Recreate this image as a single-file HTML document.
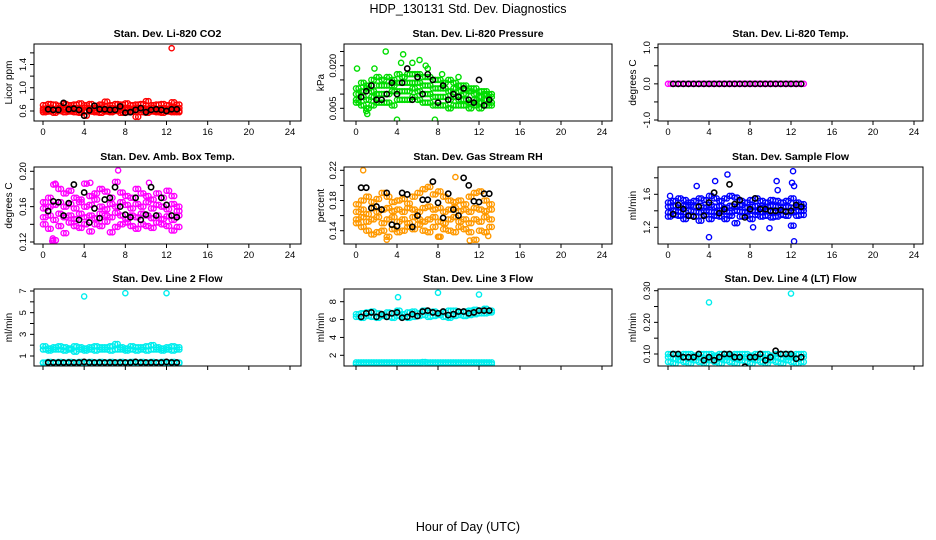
<!DOCTYPE html>
<html><head><meta charset="utf-8"><style>
body{margin:0;background:#fff;}
svg{display:block;font-family:"Liberation Sans",Helvetica,sans-serif;}
</style></head><body>
<svg id="chart" width="936" height="540" viewBox="0 0 936 540">
<text x="468" y="13" text-anchor="middle" font-size="12.5">HDP_130131  Std. Dev. Diagnostics</text>
<text x="468" y="531" text-anchor="middle" font-size="12.5">Hour of Day (UTC)</text>
</svg>
<script>
// shared hour grids
const hoursColor = [0,0.5,1,1.5,2,2.5,3,3.5,4,4.5,5,5.5,6,6.5,7,7.5,8,8.5,9,9.5,10,10.5,11,11.5,12,12.5,13];
const hoursBlack = [0.5,1,1.5,2,2.5,3,3.5,4,4.5,5,5.5,6,6.5,7,7.5,8,8.5,9,9.5,10,10.5,11,11.5,12,12.5,13];
const xTicks = [0,4,8,12,16,20,24];

// P1 CO2
const co2A = [0.70,0.72,0.71,0.69,0.72,0.70,0.71,0.73,0.70,0.72,0.69,0.71,0.76,0.70,0.72,0.71,0.73,0.70,0.71,0.72,0.77,0.70,0.71,0.72,0.70,0.75,0.71];
const co2B = [0.64,0.66,0.63,0.65,0.64,0.66,0.65,0.63,0.66,0.64,0.65,0.66,0.64,0.65,0.63,0.66,0.65,0.64,0.66,0.65,0.64,0.66,0.63,0.65,0.64,0.66,0.65];
const co2C = [0.58,0.59,0.57,0.60,0.58,0.59,0.58,0.57,0.52,0.59,0.58,0.57,0.59,0.58,0.60,0.57,0.58,0.59,0.50,0.58,0.57,0.59,0.58,0.57,0.59,0.58,0.58];
const co2D = [0.61,0.62,0.61,0.60,0.62,0.61,0.62,0.61,0.60,0.62,0.61,0.62,0.61,0.60,0.62,0.61,0.62,0.60,0.61,0.62,0.61,0.62,0.60,0.61,0.62,0.61,0.60];
const co2OutH = [12.5], co2OutV = [1.68];
const co2Black = [0.63,0.62,0.62,0.74,0.63,0.64,0.62,0.52,0.61,0.69,0.63,0.63,0.62,0.62,0.68,0.57,0.58,0.62,0.65,0.58,0.62,0.63,0.62,0.60,0.63,0.63];
// P2 pressure
const prA = [.012,.014,.013,.015,.016,.015,.016,.015,.017,.016,.017,.017,.017,.016,.016,.015,.015,.014,.015,.014,.013,.013,.012,.012,.011,.011,.010];
const prB = [.010,.011,.012,.011,.013,.013,.013,.013,.014,.014,.014,.014,.014,.013,.013,.012,.012,.012,.011,.012,.011,.010,.011,.010,.009,.010,.009];
const prC = [.008,.009,.008,.009,.010,.010,.010,.011,.011,.011,.011,.012,.011,.010,.010,.009,.009,.009,.008,.009,.008,.008,.007,.008,.007,.008,.007];
const prD = [.007,.006,.005,.006,.007,.007,.007,.006,.008,.008,.008,.009,.008,.007,.007,.006,.006,.006,.005,.006,.006,.006,.005,.006,.005,.006,.006];
const prOutH = [0.1,1,1.1,2.9,4,4.4,4.6,5.5,6.2,7.7,8.4,10,1.8,6.8,7.0];
const prOutV = [.019,.004,.003,.025,.001,.021,.024,.021,.022,.001,.017,.016,.019,.020,.019];
const prBlack = [.009,.011,.013,.008,.008,.010,.014,.010,.014,.019,.008,.016,.010,.017,.015,.007,.013,.008,.010,.009,.012,.008,.007,.015,.006,.008];
// P3 temp
const tpA = [0,0,0,0,0,0,0,0,0,0,0,0,0,0,0,0,0,0,0,0,0,0,0,0,0,0,0];
const tpBlack = [0,0,0,0,0,0,0,0,0,0,0,0,0,0,0,0,0,0,0,0,0,0,0,0,0,0];
// P4 amb box temp
const abA = [.165,.170,.185,.180,.175,.178,.170,.168,.186,.172,.175,.180,.177,.170,.188,.176,.172,.170,.180,.175,.172,.168,.175,.170,.178,.172,.160];
const abB = [.158,.160,.162,.165,.160,.163,.158,.165,.160,.162,.168,.160,.157,.163,.160,.165,.162,.158,.163,.160,.165,.158,.162,.160,.157,.163,.155];
const abC = [.148,.150,.145,.152,.148,.150,.146,.152,.148,.150,.147,.152,.150,.148,.153,.150,.146,.150,.148,.152,.150,.147,.150,.146,.149,.145,.150];
const abD = [.140,.135,.122,.138,.130,.142,.138,.136,.140,.132,.140,.138,.143,.131,.137,.140,.142,.138,.135,.140,.138,.136,.142,.140,.138,.133,.137];
const abOutH = [0.9,0.95,7.3,10.3,1.2,4.6];
const abOutV = [.121,.124,.201,.187,.186,.187];
const abBlack = [.155,.166,.165,.150,.164,.185,.145,.176,.142,.158,.147,.168,.170,.182,.160,.151,.148,.170,.145,.151,.182,.150,.170,.162,.150,.148];
// P5 gas stream RH
const rhA = [.175,.180,.185,.178,.182,.190,.185,.178,.180,.182,.176,.185,.190,.195,.198,.188,.192,.185,.180,.178,.180,.175,.185,.190,.192,.180,.175];
const rhB = [.165,.168,.162,.170,.165,.168,.170,.166,.168,.165,.170,.168,.165,.170,.172,.168,.170,.165,.168,.170,.166,.168,.165,.170,.168,.166,.168];
const rhC = [.155,.158,.152,.155,.158,.150,.155,.158,.152,.155,.150,.158,.155,.152,.155,.158,.152,.150,.155,.158,.152,.155,.150,.155,.152,.158,.155];
const rhD = [.150,.145,.140,.135,.138,.140,.132,.142,.138,.140,.145,.142,.148,.140,.138,.145,.132,.142,.140,.138,.145,.142,.138,.128,.140,.138,.145];
const rhOutH = [0.7,3,8.1,9.7,11.1,12.9];
const rhOutV = [.220,.128,.132,.211,.127,.133];
const rhBlack = [.197,.197,.170,.172,.168,.190,.148,.146,.190,.188,.145,.160,.181,.181,.205,.177,.157,.189,.168,.160,.210,.200,.179,.178,.189,.189];
// P6 sample flow
const sfA = [1.50,1.52,1.55,1.53,1.50,1.52,1.55,1.53,1.58,1.55,1.52,1.55,1.58,1.56,1.52,1.50,1.53,1.55,1.52,1.50,1.53,1.52,1.50,1.52,1.55,1.50,1.48];
const sfB = [1.45,1.46,1.44,1.46,1.47,1.45,1.46,1.44,1.47,1.45,1.46,1.44,1.46,1.45,1.47,1.44,1.45,1.46,1.44,1.45,1.46,1.45,1.44,1.45,1.44,1.45,1.44];
const sfC = [1.38,1.40,1.39,1.38,1.40,1.39,1.38,1.40,1.39,1.38,1.40,1.39,1.38,1.40,1.39,1.38,1.40,1.39,1.38,1.40,1.39,1.38,1.40,1.39,1.38,1.40,1.40];
const sfD = [1.33,1.35,1.34,1.30,1.34,1.33,1.28,1.35,1.30,1.34,1.33,1.30,1.34,1.25,1.33,1.34,1.30,1.35,1.33,1.34,1.32,1.33,1.35,1.34,1.22,1.34,1.35];
const sfOutH = [0.2,2.8,4,4.6,5.8,8.3,9.9,10.6,10.7,12.1,12.2,12.3,12.3];
const sfOutV = [1.58,1.70,1.08,1.76,1.84,1.20,1.19,1.76,1.65,1.74,1.88,1.70,1.03];
const sfBlack = [1.36,1.47,1.42,1.34,1.33,1.45,1.34,1.50,1.62,1.37,1.42,1.72,1.48,1.53,1.32,1.42,1.55,1.42,1.42,1.40,1.40,1.41,1.39,1.40,1.47,1.45];
// P7 line 2 flow
const l2A = [1.9,1.7,1.8,1.9,1.8,1.7,1.9,1.8,1.7,1.8,1.9,1.8,1.8,1.9,2.1,1.8,1.7,1.9,1.8,1.8,1.9,2.0,1.8,1.7,1.8,1.9,1.8];
const l2B = [1.6,1.5,1.6,1.6,1.5,1.6,1.4,1.6,1.5,1.6,1.5,1.6,1.6,1.5,1.6,1.6,1.5,1.6,1.5,1.6,1.5,1.6,1.6,1.5,1.6,1.5,1.6];
const l2C = [0.4,0.45,0.4,0.45,0.4,0.45,0.4,0.45,0.4,0.45,0.4,0.45,0.4,0.45,0.4,0.45,0.4,0.45,0.4,0.45,0.4,0.45,0.4,0.45,0.4,0.45,0.4];
const l2D = [0.35,0.35,0.35,0.35,0.35,0.35,0.35,0.35,0.35,0.35,0.35,0.35,0.35,0.35,0.35,0.35,0.35,0.35,0.35,0.35,0.35,0.35,0.35,0.35,0.35,0.35,0.35];
const l2OutH = [4,8,12], l2OutV = [6.5,6.8,6.8];
const l2Black = [0.4,0.4,0.4,0.4,0.4,0.4,0.4,0.45,0.4,0.4,0.4,0.4,0.4,0.4,0.4,0.4,0.4,0.45,0.4,0.4,0.4,0.4,0.4,0.45,0.4,0.4];
// P8 line 3 flow
const l3A = [6.6,6.7,6.8,6.9,6.7,6.6,6.8,6.7,7.0,6.6,6.8,6.9,6.7,7.0,6.8,6.9,6.7,6.8,7.0,7.0,6.8,6.9,7.0,7.1,7.0,7.2,7.0];
const l3B = [6.3,6.2,6.4,6.3,6.2,6.4,6.3,6.2,6.4,6.3,6.2,6.3,6.4,6.5,6.3,6.4,6.5,6.3,6.2,6.4,6.5,6.4,6.5,6.6,6.7,6.7,6.8];
const l3C = [1.2,1.2,1.2,1.2,1.2,1.2,1.2,1.2,1.2,1.2,1.2,1.2,1.2,1.25,1.2,1.2,1.2,1.2,1.2,1.2,1.2,1.2,1.2,1.2,1.2,1.2,1.2];
const l3D = [1.0,1.0,1.0,1.0,1.0,1.0,1.0,1.0,1.0,1.0,1.0,1.0,1.0,1.0,1.0,1.0,1.0,1.0,1.0,1.0,1.0,1.0,1.0,1.0,1.0,1.0,1.0];
const l3OutH = [4.1,8,12], l3OutV = [8.5,9.0,8.8];
const l3Black = [6.3,6.7,6.8,6.3,6.6,6.3,6.7,6.8,6.2,6.3,6.6,6.4,6.9,7.0,6.8,6.7,6.9,6.5,6.6,6.9,6.9,6.7,6.8,7.0,7.0,7.0];
// P9 line 4 flow
const l4A = [.10,.10,.095,.10,.10,.095,.10,.10,.10,.095,.10,.10,.095,.10,.10,.10,.095,.10,.10,.10,.095,.10,.10,.10,.095,.10,.10];
const l4B = [.09,.085,.09,.09,.085,.09,.09,.085,.09,.09,.085,.09,.09,.085,.09,.09,.085,.09,.09,.085,.09,.09,.085,.09,.09,.085,.09];
const l4C = [.075,.07,.08,.075,.07,.08,.075,.07,.08,.075,.07,.08,.075,.07,.08,.075,.07,.08,.075,.07,.08,.075,.07,.08,.075,.07,.075];
const l4OutH = [4,12], l4OutV = [.263,.291];
const l4Black = [.10,.10,.09,.09,.09,.10,.08,.09,.08,.09,.10,.10,.09,.09,.06,.09,.09,.10,.08,.09,.11,.10,.10,.10,.085,.09];

const svg = document.getElementById('chart');
const NS = 'http://www.w3.org/2000/svg';
function mk(tag, attrs, parent){const e=document.createElementNS(NS,tag);for(const k in attrs)e.setAttribute(k,attrs[k]);(parent||svg).appendChild(e);return e;}

const cols = [{bx0:34,bx1:301,x0:43,x24:290,lab:8},{bx0:344,bx1:612,x0:356,x24:602,lab:320},{bx0:658,bx1:923,x0:668,x24:914,lab:632}];
const rows = [{top:44,bot:121},{top:167,bot:244},{top:289,bot:366}];

const panels = [
 {r:0,c:0,title:'Stan. Dev. Li-820 CO2',ylab:'Licor ppm',color:'#ff0000',v0:0.6,p0:111,v1:1.4,p1:64.5,ticks:[0.6,0.8,1.0,1.2,1.4,1.6],labels:['0.6','1.0','1.4'],bands:[co2A,co2B,co2C,co2D],outH:co2OutH,outV:co2OutV,black:co2Black,name:'co2'},
 {r:0,c:1,title:'Stan. Dev. Li-820 Pressure',ylab:'kPa',color:'#00dd00',v0:0.005,p0:108.3,v1:0.020,p1:65.7,ticks:[0.005,0.010,0.015,0.020,0.025],labels:['0.005','0.020'],bands:[prA,prB,prC,prD],outH:prOutH,outV:prOutV,black:prBlack,name:'pressure'},
 {r:0,c:2,title:'Stan. Dev. Li-820 Temp.',ylab:'degrees C',color:'#ff00ff',v0:-1,p0:120,v1:1,p1:47.7,ticks:[-1,-0.5,0,0.5,1],labels:['-1.0','0.0','1.0'],bands:[tpA],outH:[],outV:[],black:tpBlack,name:'licor-temp'},
 {r:1,c:0,title:'Stan. Dev. Amb. Box Temp.',ylab:'degrees C',color:'#ff00ff',v0:0.12,p0:242,v1:0.20,p1:171.3,ticks:[0.12,0.14,0.16,0.18,0.20],labels:['0.12','0.16','0.20'],bands:[abA,abB,abC,abD],outH:abOutH,outV:abOutV,black:abBlack,name:'amb-box-temp'},
 {r:1,c:1,title:'Stan. Dev. Gas Stream RH',ylab:'percent',color:'#ff9900',v0:0.14,p0:230.7,v1:0.22,p1:170.3,ticks:[0.14,0.16,0.18,0.20,0.22],labels:['0.14','0.18','0.22'],bands:[rhA,rhB,rhC,rhD],outH:rhOutH,outV:rhOutV,black:rhBlack,name:'gas-rh'},
 {r:1,c:2,title:'Stan. Dev. Sample Flow',ylab:'ml/min',color:'#0000ff',v0:1.2,p0:227.3,v1:1.6,p1:194.3,ticks:[1.2,1.4,1.6,1.8],labels:['1.2','1.6'],bands:[sfA,sfB,sfC,sfD],outH:sfOutH,outV:sfOutV,black:sfBlack,name:'sample-flow'},
 {r:2,c:0,title:'Stan. Dev. Line 2 Flow',ylab:'ml/min',color:'#00eeee',v0:1,p0:356,v1:7,p1:291,ticks:[1,2,3,4,5,6,7],labels:['1','3','5','7'],bands:[l2A,l2B,l2C,l2D],outH:l2OutH,outV:l2OutV,black:l2Black,name:'line2-flow'},
 {r:2,c:1,title:'Stan. Dev. Line 3 Flow',ylab:'ml/min',color:'#00eeee',v0:2,p0:355.3,v1:8,p1:301.7,ticks:[2,4,6,8],labels:['2','4','6','8'],bands:[l3A,l3B,l3C,l3D],outH:l3OutH,outV:l3OutV,black:l3Black,name:'line3-flow'},
 {r:2,c:2,title:'Stan. Dev. Line 4 (LT) Flow',ylab:'ml/min',color:'#00eeee',v0:0.10,p0:354,v1:0.30,p1:290.7,ticks:[0.10,0.15,0.20,0.25,0.30],labels:['0.10','0.20','0.30'],bands:[l4A,l4B,l4C],outH:l4OutH,outV:l4OutV,black:l4Black,name:'line4-flow'}
];

panels.forEach(p=>{
  const C=cols[p.c], R=rows[p.r];
  const g=mk('g',{});
  
  
  const xs=h=>C.x0+(C.x24-C.x0)*h/24;
  const ys=v=>p.p0+(p.p1-p.p0)*(v-p.v0)/(p.v1-p.v0);
  const clip='clip-'+p.name;
  const cp=mk('clipPath',{id:clip},g); mk('rect',{x:C.bx0,y:R.top,width:C.bx1-C.bx0,height:R.bot-R.top},cp);
  const t=mk('text',{x:(C.bx0+C.bx1)/2,y:R.top-7,'text-anchor':'middle','font-size':'10.5','font-weight':'bold'},g);
  t.textContent=p.title;
  
  
  const yl=mk('text',{x:C.lab+4,y:(R.top+R.bot)/2,'text-anchor':'middle','font-size':'10',transform:`rotate(-90 ${C.lab+4} ${(R.top+R.bot)/2})`},g);
  yl.textContent=p.ylab;
  
  
  const pts=mk('g',{'clip-path':`url(#${clip})`},g);
  
  
  p.bands.forEach(arr=>{
    arr.forEach((v,i)=>{
      if(i>=hoursColor.length) return;
      const c=mk('circle',{cx:xs(hoursColor[i]),cy:ys(v),r:2.6,fill:'none',stroke:p.color,'stroke-width':1.4},pts);
      
      
      const c2=mk('circle',{cx:xs(hoursColor[i]+0.25),cy:ys(v),r:2.6,fill:'none',stroke:p.color,'stroke-width':1.4},pts);
      
      
    });
  });
  p.outH.forEach((h,i)=>{
    const c=mk('circle',{cx:xs(h),cy:ys(p.outV[i]),r:2.6,fill:'none',stroke:p.color,'stroke-width':1.4},pts);
    
    
  });
  p.black.forEach((v,i)=>{
    if(i>=hoursBlack.length) return;
    const c=mk('circle',{cx:xs(hoursBlack[i]),cy:ys(v),r:2.6,fill:'none',stroke:'#000','stroke-width':1.6},pts);
    
    
  });
  const b=mk('rect',{x:C.bx0,y:R.top,width:C.bx1-C.bx0,height:R.bot-R.top,fill:'none',stroke:'#000','stroke-width':1},g);
  
  
  xTicks.forEach(h=>{
    mk('line',{x1:xs(h),x2:xs(h),y1:R.bot,y2:R.bot+4,stroke:'#000'},g);
    if(p.r<2){
      const tl=mk('text',{x:xs(h),y:R.bot+14,'text-anchor':'middle','font-size':'9.5'},g);
      tl.textContent=h;
      
      
    }
  });
  p.ticks.forEach(v=>{ mk('line',{x1:C.bx0,x2:C.bx0-4,y1:ys(v),y2:ys(v),stroke:'#000'},g); });
  p.labels.forEach(s=>{
    const v=parseFloat(s), y=ys(v), x=C.bx0-8;
    const tl=mk('text',{x:x,y:y,'text-anchor':'middle','font-size':'9.5',transform:`rotate(-90 ${x} ${y})`},g);
    tl.textContent=s;
    
    
  });
});
</script>
</body></html>
